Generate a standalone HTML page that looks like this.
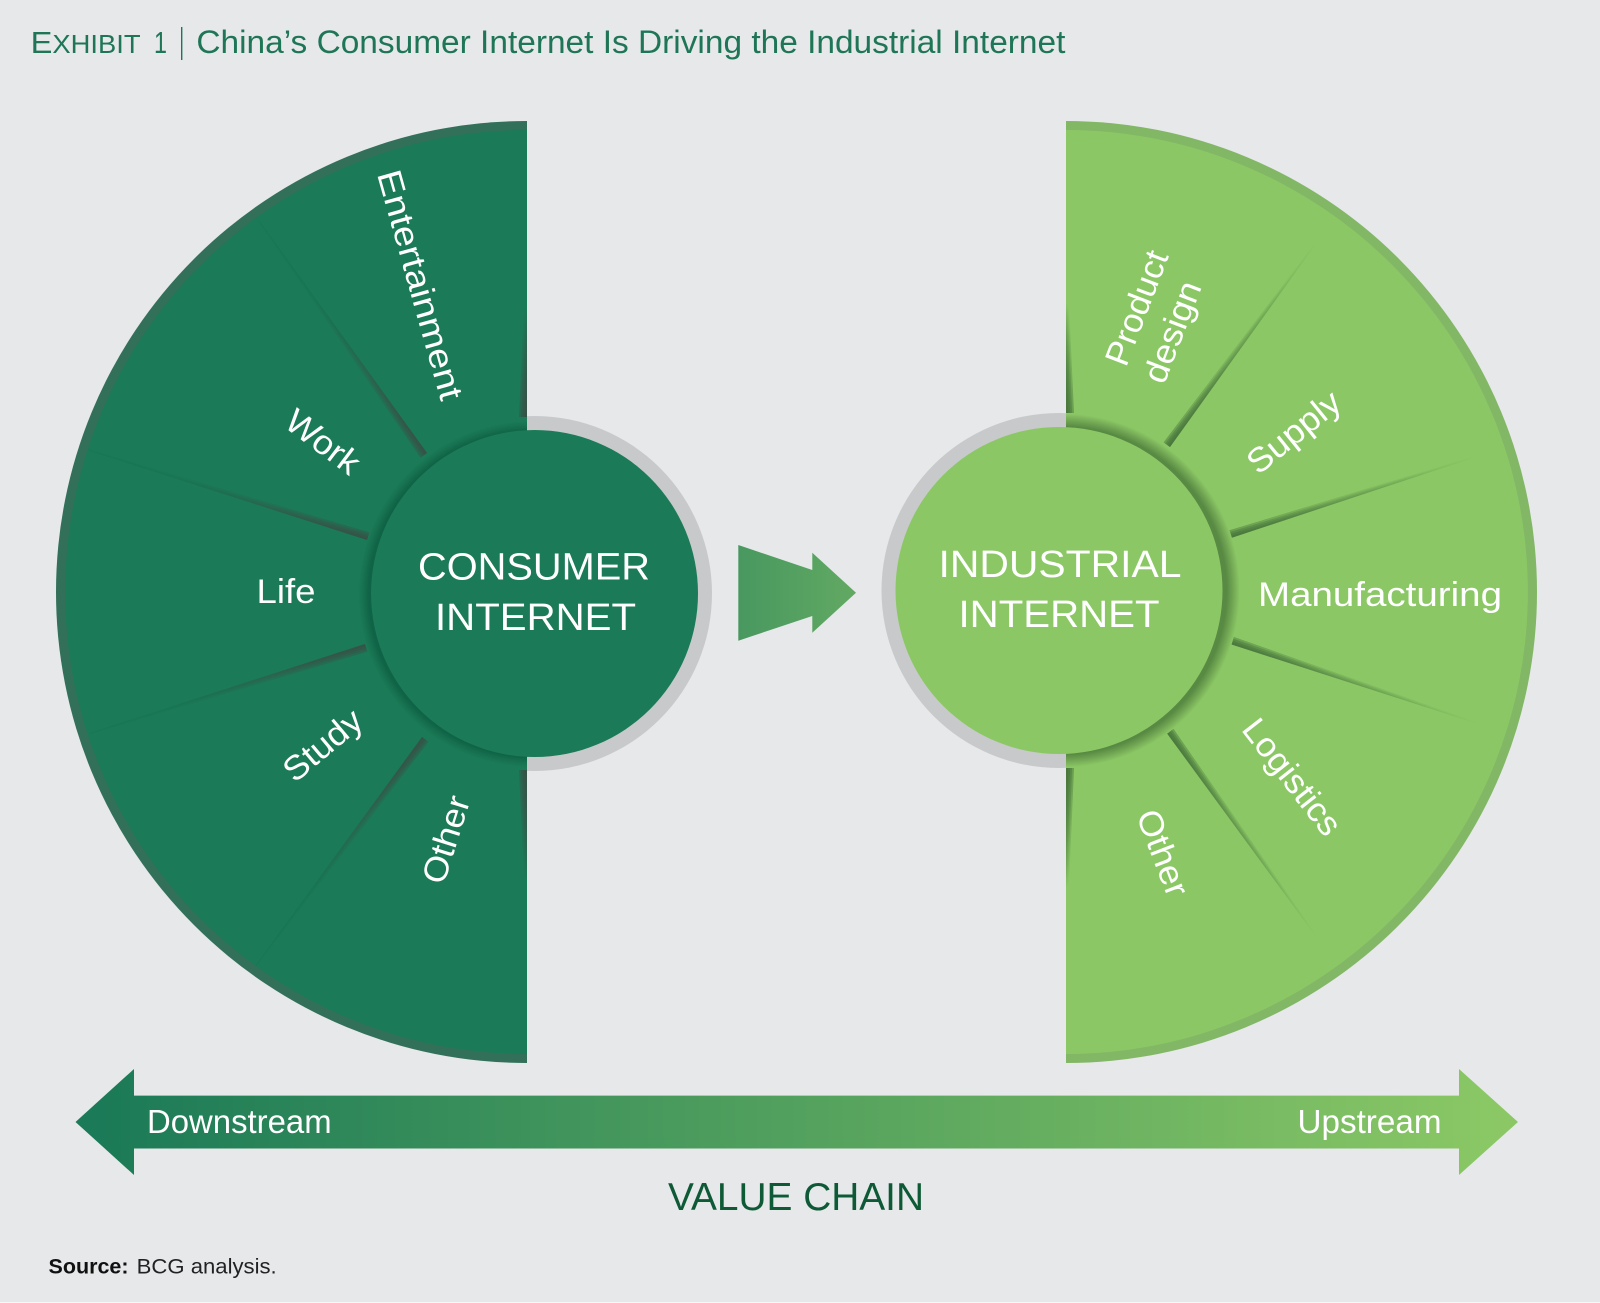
<!DOCTYPE html>
<html lang="en">
<head>
<meta charset="utf-8">
<title>Exhibit 1</title>
<style>
html,body{margin:0;padding:0;background:#e6e8ea}
svg{display:block}
text{font-family:"Liberation Sans",sans-serif}
.w{fill:#fff;font-size:34px;text-anchor:middle}
.c{fill:#fff;font-size:38px;text-anchor:middle}
.t{fill:#1f7656}
</style>
</head>
<body>
<svg width="1600" height="1303" viewBox="0 0 1600 1303" xmlns="http://www.w3.org/2000/svg">
<defs>
<linearGradient id="flow" gradientUnits="userSpaceOnUse" x1="100" y1="0" x2="1500" y2="0">
<stop offset="0" stop-color="#1b7a57"/><stop offset="1" stop-color="#8bc865"/>
</linearGradient>
<linearGradient id="flowC" gradientUnits="userSpaceOnUse" x1="738" y1="0" x2="856" y2="0">
<stop offset="0" stop-color="#489860"/><stop offset="1" stop-color="#62a962"/>
</linearGradient>
<radialGradient id="shL" gradientUnits="userSpaceOnUse" cx="531.5" cy="594" r="173">
<stop offset="0" stop-color="#0f6346"/><stop offset=".94" stop-color="#0f6346"/><stop offset=".97" stop-color="#16704f"/><stop offset="1" stop-color="#1b7a57"/>
</radialGradient>
<radialGradient id="shR" gradientUnits="userSpaceOnUse" cx="1063" cy="590.5" r="177">
<stop offset="0" stop-color="#588a43"/><stop offset=".925" stop-color="#588a43"/><stop offset=".965" stop-color="#74a955"/><stop offset="1" stop-color="#8bc865"/>
</radialGradient>
<clipPath id="clL"><path d="M527,121A471,471 0 0 0 527,1063Z"/></clipPath>
<clipPath id="clR"><path d="M1066,121A471,471 0 0 1 1066,1063Z"/></clipPath>

<linearGradient id="gL"><stop offset="0" stop-color="#3a4d46" stop-opacity=".4"/><stop offset=".35" stop-color="#3a4d46" stop-opacity=".16"/><stop offset=".7" stop-color="#0f6648" stop-opacity=".07"/><stop offset="1" stop-color="#0f6648" stop-opacity=".05"/></linearGradient>
<linearGradient id="gR"><stop offset="0" stop-color="#45723a" stop-opacity=".48"/><stop offset=".4" stop-color="#45723a" stop-opacity=".2"/><stop offset=".8" stop-color="#45723a" stop-opacity=".05"/><stop offset="1" stop-color="#45723a" stop-opacity="0"/></linearGradient>
<linearGradient id="gLe"><stop offset="0" stop-color="#3a4d46" stop-opacity=".42"/><stop offset="1" stop-color="#3a4d46" stop-opacity="0"/></linearGradient>
<linearGradient id="gRe"><stop offset="0" stop-color="#45723a" stop-opacity=".5"/><stop offset="1" stop-color="#45723a" stop-opacity="0"/></linearGradient>

<g id="dL" fill="url(#gL)">
<polygon points="0,0 1,0 1,1.5 0,8"/><polygon points="0,0 1,0 1,1.1 0,6"/><polygon points="0,0 1,0 1,.8 0,4"/><polygon points="0,0 1,0 1,.4 0,2"/>
</g>
<g id="dR" fill="url(#gR)">
<polygon points="0,0 1,0 1,1.5 0,8"/><polygon points="0,0 1,0 1,1.1 0,6"/><polygon points="0,0 1,0 1,.8 0,4"/><polygon points="0,0 1,0 1,.4 0,2"/>
</g>
<g id="eL" fill="url(#gLe)">
<polygon points="0,0 1,0 1,3 0,8"/><polygon points="0,0 1,0 1,2.2 0,6"/><polygon points="0,0 1,0 1,1.5 0,4"/><polygon points="0,0 1,0 1,.7 0,2"/>
</g>
<g id="eR" fill="url(#gRe)">
<polygon points="0,0 1,0 1,3 0,8"/><polygon points="0,0 1,0 1,2.2 0,6"/><polygon points="0,0 1,0 1,1.5 0,4"/><polygon points="0,0 1,0 1,.7 0,2"/>
</g>
</defs>

<rect width="1600" height="1303" fill="#e6e8ea"/>
<rect y="1302" width="1600" height="1" fill="#f6f7f7"/>

<!-- Title -->
<text class="t" x="30.6" y="53" font-size="31" textLength="110" lengthAdjust="spacingAndGlyphs">E<tspan font-size="26">XHIBIT</tspan></text>
<text class="t" x="154" y="53" font-size="31" textLength="13" lengthAdjust="spacingAndGlyphs">1</text>
<rect x="181" y="27" width="1.4" height="33" fill="#1f7656"/>
<text class="t" x="196.4" y="53" font-size="32" textLength="869" lengthAdjust="spacingAndGlyphs">China’s Consumer Internet Is Driving the Industrial Internet</text>

<!-- Left -->
<circle cx="534.5" cy="593.5" r="177.5" fill="#c8c9ca"/>
<path d="M527,121A471,471 0 0 0 527,1063Z" fill="#33705a"/>
<path d="M527,130A462,462 0 0 0 527,1054Z" fill="#1b7a57"/>
<g clip-path="url(#clL)">
<use href="#dL" transform="translate(427,453) rotate(-125.8) scale(287,-1)"/>
<use href="#dL" transform="translate(367,540) rotate(-162.2) scale(294,1)"/>
<use href="#dL" transform="translate(365,644) rotate(162.1) scale(290,-1)"/>
<use href="#dL" transform="translate(422,737) rotate(126.1) scale(283,-1)"/>
<use href="#eL" transform="translate(527,417) rotate(-90) scale(110,-1)"/>
<use href="#eL" transform="translate(527,770) rotate(90) scale(110,1)"/>
</g>
<circle cx="531.5" cy="594" r="173" fill="url(#shL)" clip-path="url(#clL)"/>
<circle cx="534.5" cy="593.5" r="163.5" fill="#1b7a57"/>

<!-- Right -->
<circle cx="1059" cy="590.5" r="177.5" fill="#c8c9ca"/>
<path d="M1066,121A471,471 0 0 1 1066,1063Z" fill="#82b766"/>
<path d="M1066,130A462,462 0 0 1 1066,1054Z" fill="#8bc865"/>
<g clip-path="url(#clR)">
<use href="#dR" transform="translate(1170,447) rotate(-54.3) scale(257,-1)"/>
<use href="#dR" transform="translate(1228,539) rotate(-18.3) scale(264,-1)"/>
<use href="#dR" transform="translate(1227,643) rotate(17.9) scale(267,-1)"/>
<use href="#dR" transform="translate(1166,732) rotate(53.8) scale(258,-1)"/>
<use href="#eR" transform="translate(1066,413) rotate(-90) scale(110,1)"/>
<use href="#eR" transform="translate(1066,768) rotate(90) scale(120,-1)"/>
</g>
<circle cx="1063" cy="590.5" r="177" fill="url(#shR)" clip-path="url(#clR)"/>
<circle cx="1059" cy="590.5" r="163.5" fill="#8bc865"/>

<!-- Center arrow -->
<polygon points="738.3,545 812.3,570 812.3,552.7 856,592.7 812.3,632.7 812.3,616 738.3,640.7" fill="url(#flowC)"/>

<!-- Bottom arrow -->
<polygon points="75.5,1122 134,1069 134,1095.6 1459,1095.6 1459,1069 1518,1122 1459,1175 1459,1148.5 134,1148.5 134,1175" fill="url(#flow)"/>

<!-- Circle labels -->
<text class="c" x="534" y="579.6" textLength="232" lengthAdjust="spacingAndGlyphs">CONSUMER</text>
<text class="c" x="535.5" y="630" textLength="201" lengthAdjust="spacingAndGlyphs">INTERNET</text>
<text class="c" x="1060" y="577" textLength="243" lengthAdjust="spacingAndGlyphs">INDUSTRIAL</text>
<text class="c" x="1059" y="627" textLength="201" lengthAdjust="spacingAndGlyphs">INTERNET</text>

<!-- Left labels -->
<text class="w" transform="translate(409,288) rotate(74.3)" textLength="237" lengthAdjust="spacingAndGlyphs">Entertainment</text>
<text class="w" transform="translate(316,451) rotate(37)" textLength="84" lengthAdjust="spacingAndGlyphs">Work</text>
<text class="w" x="286" y="603" textLength="59" lengthAdjust="spacingAndGlyphs">Life</text>
<text class="w" transform="translate(330,754) rotate(-40)" textLength="92" lengthAdjust="spacingAndGlyphs">Study</text>
<text class="w" transform="translate(457,843) rotate(-72.5)" textLength="90" lengthAdjust="spacingAndGlyphs">Other</text>

<!-- Right labels -->
<text class="w" transform="translate(1147.5,312) rotate(-69)" textLength="120" lengthAdjust="spacingAndGlyphs">Product</text>
<text class="w" transform="translate(1183,336) rotate(-69)" textLength="106" lengthAdjust="spacingAndGlyphs">design</text>
<text class="w" transform="translate(1301,441) rotate(-39)" textLength="110" lengthAdjust="spacingAndGlyphs">Supply</text>
<text class="w" x="1380" y="606" textLength="244" lengthAdjust="spacingAndGlyphs">Manufacturing</text>
<text class="w" transform="translate(1283,784) rotate(52)" textLength="138" lengthAdjust="spacingAndGlyphs">Logistics</text>
<text class="w" transform="translate(1152,857) rotate(69)" textLength="90" lengthAdjust="spacingAndGlyphs">Other</text>

<!-- Arrow labels -->
<text x="147" y="1133" fill="#fff" font-size="33" textLength="184.6" lengthAdjust="spacingAndGlyphs">Downstream</text>
<text x="1297.5" y="1133" fill="#fff" font-size="33" textLength="144" lengthAdjust="spacingAndGlyphs">Upstream</text>
<text x="668" y="1210" fill="#0e5a36" font-size="39" textLength="256" lengthAdjust="spacingAndGlyphs">VALUE CHAIN</text>

<!-- Source -->
<text x="48.5" y="1273.5" fill="#111" font-size="21" font-weight="bold" textLength="80" lengthAdjust="spacingAndGlyphs">Source:</text>
<text x="136.7" y="1273.5" fill="#222" font-size="21" textLength="140" lengthAdjust="spacingAndGlyphs">BCG analysis.</text>
</svg>
</body>
</html>
